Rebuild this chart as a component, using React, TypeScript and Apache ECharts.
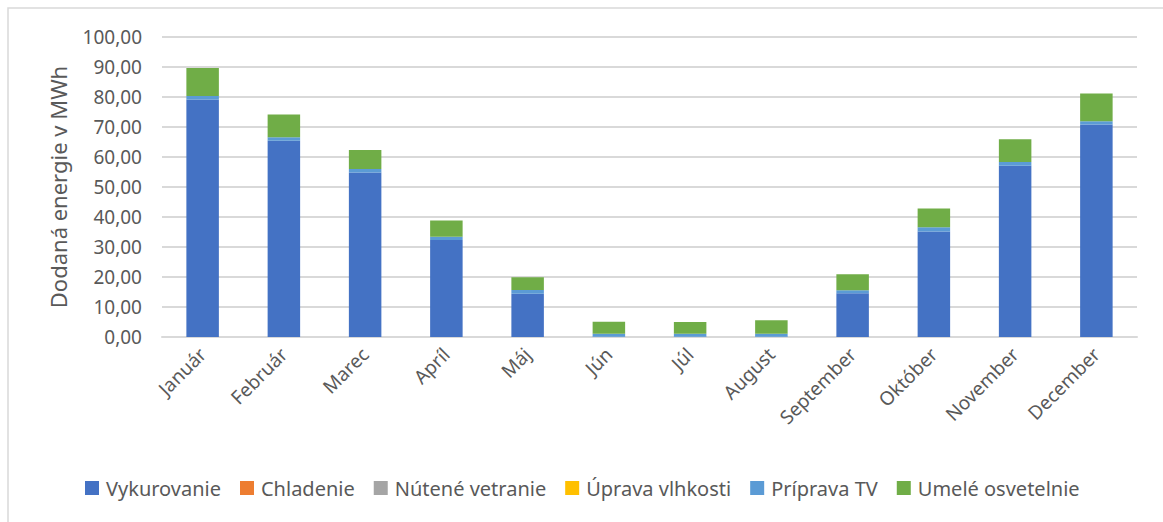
import React, { useEffect, useRef } from "react";
import * as echarts from "echarts";

const months = ["Január", "Február", "Marec", "Apríl", "Máj", "Jún", "Júl", "August", "September", "Október", "November", "December"];
const vykurovanie = [79.2, 65.4, 54.8, 32.3, 14.4, 0.1, 0.1, 0.1, 14.6, 35.2, 57.1, 70.8];
const chladenie = [0, 0, 0, 0, 0, 0, 0, 0, 0, 0, 0, 0];
const nuteneVetranie = [0, 0, 0, 0, 0, 0, 0, 0, 0, 0, 0, 0];
const upravaVlhkosti = [0, 0, 0, 0, 0, 0, 0, 0, 0, 0, 0, 0];
const pripravaTV = [1.1, 1.2, 1.2, 1.1, 1.3, 1.0, 1.0, 1.0, 1.0, 1.4, 1.2, 1.1];
const umeleOsvetlenie = [9.4, 7.6, 6.3, 5.4, 4.2, 4.0, 3.9, 4.5, 5.3, 6.2, 7.6, 9.3];

const seriesNames = ["Vykurovanie", "Chladenie", "Nútené vetranie", "Úprava vlhkosti", "Príprava TV", "Umelé osvetelnie"];
const seriesData = [vykurovanie, chladenie, nuteneVetranie, upravaVlhkosti, pripravaTV, umeleOsvetlenie];
const seriesColors = ["#4472C4", "#ED7D31", "#A5A5A5", "#FFC000", "#5B9BD5", "#70AD47"];

const yTitle = "Dodaná energie v MWh";
const FONT = "'Noto Sans', sans-serif";
const TEXT = "#595959";

export default function App() {
  const ref = useRef<HTMLDivElement>(null);
  useEffect(() => {
    if (!ref.current) return;
    const chart = echarts.init(ref.current, null, { renderer: "svg" });
    chart.setOption({
      animation: false,
      backgroundColor: "#ffffff",
      textStyle: { fontFamily: FONT },
      grid: { left: 162, right: 26, top: 37, bottom: 185, containLabel: false },
      legend: {
        left: 85,
        top: 478,
        padding: 0,
        icon: "rect",
        itemWidth: 14,
        itemHeight: 14,
        itemGap: 19,
        textStyle: { color: TEXT, fontSize: 20, fontFamily: FONT, padding: [0, 0, 0, 2] },
        data: seriesNames,
      },
      xAxis: {
        type: "category",
        data: months,
        axisLine: { lineStyle: { color: "#D9D9D9", width: 2 } },
        axisTick: { show: false },
        axisLabel: { rotate: 45, interval: 0, margin: 14, color: TEXT, fontSize: 19, fontFamily: FONT },
      },
      yAxis: {
        type: "value",
        min: 0,
        max: 100,
        interval: 10,
        axisLine: { show: false },
        axisTick: { show: false },
        splitLine: { lineStyle: { color: "#D9D9D9", width: 2 } },
        axisLabel: {
          margin: 20,
          color: TEXT,
          fontSize: 19,
          fontFamily: FONT,
          formatter: (v: number) => v.toFixed(2).replace(".", ","),
        },
      },
      graphic: [
        {
          type: "rect",
          shape: { x: 8, y: 8, width: 1200, height: 560 },
          style: { fill: "none", stroke: "#D9D9D9", lineWidth: 1.5 },
          silent: true,
        },
        {
          type: "text",
          x: 58,
          y: 187,
          rotation: Math.PI / 2,
          style: {
            text: yTitle,
            fill: TEXT,
            fontSize: 22,
            fontFamily: FONT,
            textAlign: "center",
            textVerticalAlign: "middle",
          },
        },
      ],
      series: seriesNames.map((name, i) => ({
        name,
        type: "bar",
        stack: "total",
        barWidth: "40%",
        data: seriesData[i],
        itemStyle: { color: seriesColors[i] },
      })),
    });
    return () => chart.dispose();
  }, []);
  return <div ref={ref} style={{ position: "fixed", left: 0, top: 0, width: 1163, height: 522 }} />;
}
